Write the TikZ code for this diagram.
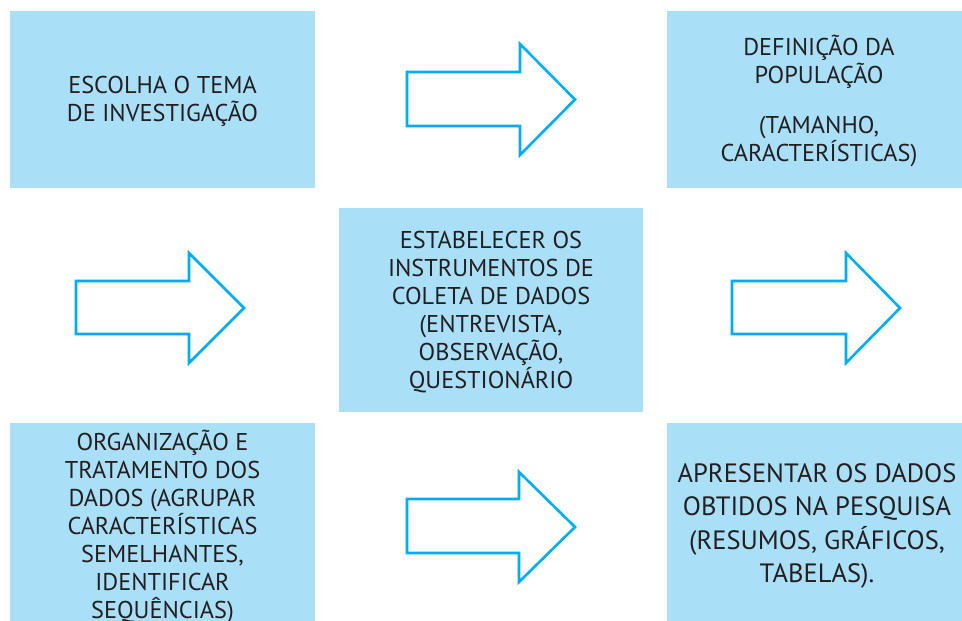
\documentclass[tikz,border=0pt]{standalone}
\usepackage{fontspec}
\setmainfont{PT Sans}
\definecolor{boxblue}{RGB}{170,223,248}
\definecolor{arrowblue}{RGB}{0,174,239}
\definecolor{txt}{RGB}{35,31,32}
\begin{document}
\begin{tikzpicture}[x=1pt,y=-1pt,
  box/.style={fill=boxblue,draw=none,text=txt,align=center,inner sep=0pt,
    font=\fontsize{24.3}{28}\selectfont},
  bigbox/.style={box,font=\fontsize{26.5}{33.5}\selectfont},
  blockarrow/.style={draw=arrowblue,line width=2.6pt,fill=white,line join=miter}]
\useasboundingbox (0,0) rectangle (962,621);
% boxes
\fill[boxblue] (10,11) rectangle (315,188);
\node[box] (b1) at (162.5,101) {ESCOLHA O TEMA\\DE INVESTIGAÇÃO};
\fill[boxblue] (667,11) rectangle (962,188);
\node[box] (b2) at (819,101) {DEFINIÇÃO DA\\POPULAÇÃO\\[22pt](TAMANHO,\\CARACTERÍSTICAS)};
\fill[boxblue] (339,208) rectangle (643,412);
\node[box] (b3) at (491,312) {ESTABELECER OS\\INSTRUMENTOS DE\\COLETA DE DADOS\\(ENTREVISTA,\\OBSERVAÇÃO,\\QUESTIONÁRIO};
\fill[boxblue] (10,423) rectangle (315,621);
\node[box] (b4) at (162.5,527) {ORGANIZAÇÃO E\\TRATAMENTO DOS\\DADOS (AGRUPAR\\CARACTERÍSTICAS\\SEMELHANTES,\\IDENTIFICAR\\SEQUÊNCIAS)};
\fill[boxblue] (667,423) rectangle (962,621);
\node[bigbox] (b5) at (817,526) {APRESENTAR OS DADOS\\OBTIDOS NA PESQUISA\\(RESUMOS, GRÁFICOS,\\TABELAS).};
% block arrows
\draw[blockarrow] (407,72) -- (520,72) -- (520,44) -- (575,99.5) -- (520,155) -- (520,126) -- (407,126) -- cycle;
\draw[blockarrow] (76,281) -- (189,281) -- (189,253) -- (244,308) -- (189,363) -- (189,334) -- (76,334) -- cycle;
\draw[blockarrow] (732,281) -- (846,281) -- (846,253) -- (900,308) -- (846,363) -- (846,334) -- (732,334) -- cycle;
\draw[blockarrow] (407,499) -- (519,499) -- (519,472) -- (575,527) -- (519,582) -- (519,553) -- (407,553) -- cycle;
\end{tikzpicture}
\end{document}
